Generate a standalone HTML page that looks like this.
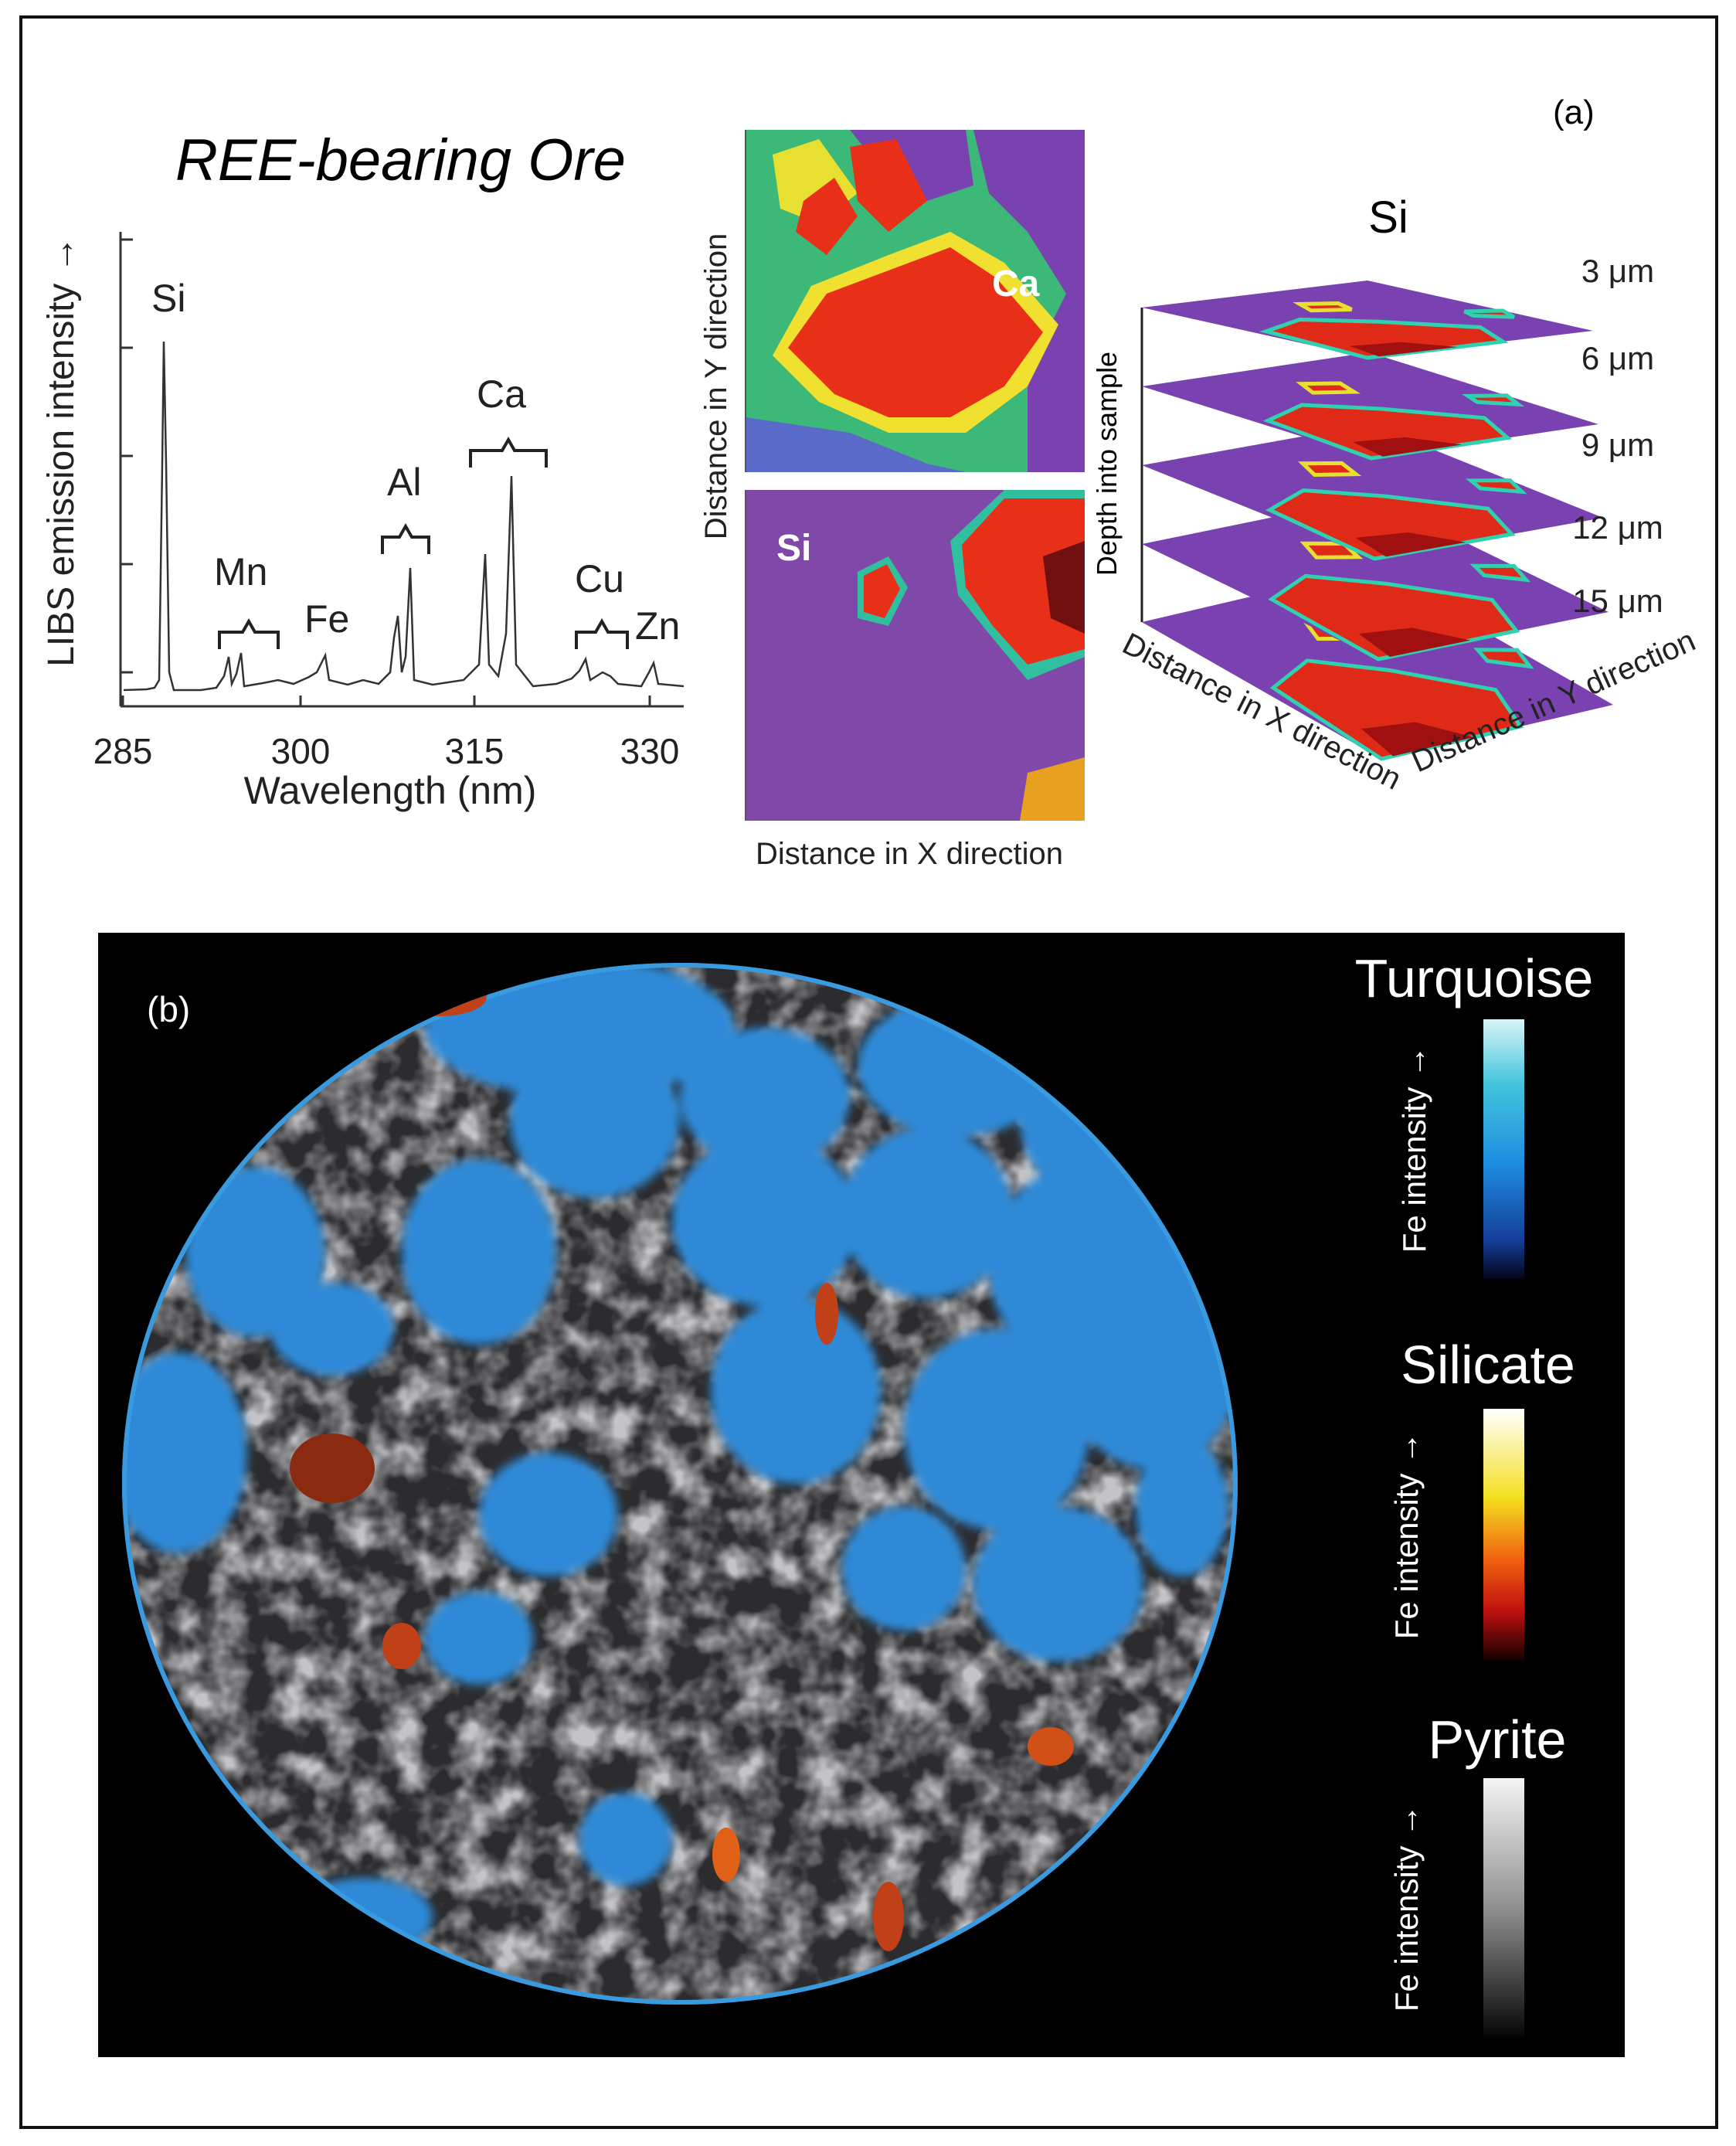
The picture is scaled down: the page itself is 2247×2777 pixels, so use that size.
<!DOCTYPE html>
<html><head><meta charset="utf-8"><style>
html,body{margin:0;padding:0;background:#fff}
svg{display:block}
text{font-family:"Liberation Sans",sans-serif}
</style></head><body>
<svg width="2247" height="2777" viewBox="0 0 2247 2777" xmlns="http://www.w3.org/2000/svg">
<defs>
<linearGradient id="tq" x1="0" y1="0" x2="0" y2="1"><stop offset="0" stop-color="#d8f4f8"/><stop offset="0.25" stop-color="#44c4dc"/><stop offset="0.55" stop-color="#1e8ee0"/><stop offset="0.85" stop-color="#143e9a"/><stop offset="1" stop-color="#05051a"/></linearGradient>
<linearGradient id="si" x1="0" y1="0" x2="0" y2="1"><stop offset="0" stop-color="#ffffff"/><stop offset="0.35" stop-color="#f4e020"/><stop offset="0.6" stop-color="#f06010"/><stop offset="0.8" stop-color="#c01010"/><stop offset="1" stop-color="#100000"/></linearGradient>
<linearGradient id="py" x1="0" y1="0" x2="0" y2="1"><stop offset="0" stop-color="#f4f4f4"/><stop offset="0.5" stop-color="#909090"/><stop offset="1" stop-color="#050505"/></linearGradient>
<filter id="tex" x="0" y="0" width="1" height="1"><feTurbulence type="fractalNoise" baseFrequency="0.022" numOctaves="3" seed="4"/><feColorMatrix type="matrix" values="0 0 0 0 0.55  0 0 0 0 0.55  0 0 0 0 0.57  0 0 0 2.5 -0.95"/></filter>
<filter id="bl"><feGaussianBlur stdDeviation="6"/></filter>
<clipPath id="disc"><ellipse cx="880" cy="1920" rx="722" ry="674"/></clipPath>
<clipPath id="ca"><rect x="965" y="168" width="439" height="443"/></clipPath>
<clipPath id="sim"><rect x="965" y="634" width="439" height="428"/></clipPath>
<g id="lay">
<polygon points="0,0 1,0 1,1 0,1" fill="#7a42b0"/>
<polygon points="0.5,0.05 1,0 1,0.6 0.78,0.72 0.55,0.5 0.4,0.3" fill="#e02a18" stroke="#30d0b0" stroke-width="5" vector-effect="non-scaling-stroke"/>
<polygon points="0.82,0.1 1,0.05 1,0.4 0.85,0.3" fill="#a01010"/>
<polygon points="0.2,0.5 0.3,0.45 0.35,0.58 0.25,0.62" fill="#e02a18" stroke="#e8e030" stroke-width="5" vector-effect="non-scaling-stroke"/>
<polygon points="0.55,0.88 0.62,0.85 0.7,0.95 0.6,1" fill="#e02a18" stroke="#30d0b0" stroke-width="5" vector-effect="non-scaling-stroke"/>
</g>
</defs>
<rect x="0" y="0" width="2247" height="2777" fill="#fff"/>
<rect x="27" y="22" width="2195" height="2731" fill="none" stroke="#111" stroke-width="4"/>

<text x="227" y="233" font-size="76" font-style="italic">REE-bearing Ore</text>
<text x="2010" y="160" font-size="44">(a)</text>
<line x1="156" y1="300" x2="156" y2="914" stroke="#333" stroke-width="3"/>
<line x1="156" y1="914" x2="885" y2="914" stroke="#333" stroke-width="3"/>
<g stroke="#333" stroke-width="3">
<line x1="156" y1="310" x2="172" y2="310"/><line x1="156" y1="450" x2="172" y2="450"/><line x1="156" y1="590" x2="172" y2="590"/><line x1="156" y1="730" x2="172" y2="730"/><line x1="156" y1="870" x2="172" y2="870"/>
<line x1="159" y1="914" x2="159" y2="900"/><line x1="389" y1="914" x2="389" y2="900"/><line x1="614" y1="914" x2="614" y2="900"/><line x1="841" y1="914" x2="841" y2="900"/>
</g>
<polyline fill="none" stroke="#333" stroke-width="2.5" points="160,893 190,892 200,890 206,880 210,600 212,442 215,600 219,870 225,893 260,893 280,890 290,875 296,850 300,885 306,872 312,845 316,888 340,884 360,880 380,885 400,876 410,870 415,860 421,848 426,880 450,886 470,880 490,885 505,870 510,825 515,797 520,870 525,850 531,735 536,880 560,886 600,880 620,860 628,717 633,860 645,875 655,820 662,616 668,860 690,888 720,885 740,878 750,868 758,853 764,880 780,870 790,875 800,885 830,888 840,870 846,858 852,885 885,888"/>
<g font-size="50" fill="#222">
<text x="196" y="403">Si</text><text x="277" y="757">Mn</text><text x="394" y="818">Fe</text><text x="501" y="641">Al</text><text x="617" y="527">Ca</text><text x="744" y="766">Cu</text><text x="822" y="827">Zn</text>
</g>
<g fill="none" stroke="#222" stroke-width="4">
<path d="M284,840 v-22 h30 l8,-14 l8,14 h30 v22"/>
<path d="M495,717 v-22 h22 l8,-14 l8,14 h22 v22"/>
<path d="M609,605 v-22 h41 l8,-14 l8,14 h41 v22"/>
<path d="M746,840 v-22 h25 l8,-14 l8,14 h25 v22"/>
</g>
<g font-size="46" fill="#222" text-anchor="middle">
<text x="159" y="988">285</text><text x="389" y="988">300</text><text x="614" y="988">315</text><text x="841" y="988">330</text>
<text x="505" y="1040" font-size="50">Wavelength (nm)</text>
<text transform="translate(95,584) rotate(-90)" font-size="48">LIBS emission intensity →</text>
</g>

<g clip-path="url(#ca)">
<rect x="965" y="168" width="439" height="443" fill="#3cb878"/>
<polygon points="1260,168 1404,168 1404,611 1330,611 1330,480 1380,380 1330,300 1280,250" fill="#7a42b0"/>
<polygon points="965,540 1100,560 1200,600 1250,611 965,611" fill="#5a6ac8"/>
<polygon points="1100,168 1250,168 1260,240 1200,260 1150,230" fill="#7a42b0"/>
<polygon points="1000,200 1060,180 1110,250 1060,290 1010,270" fill="#e8e030"/>
<polygon points="1050,370 1150,330 1230,300 1300,340 1370,420 1330,500 1250,560 1150,560 1060,520 1000,460" fill="#f0e030"/>
<polygon points="1070,380 1150,350 1230,320 1290,360 1350,430 1300,500 1230,540 1150,540 1080,510 1020,450" fill="#e83018"/>
<polygon points="1100,190 1160,180 1200,260 1150,300 1110,260" fill="#e83018"/>
<polygon points="1040,260 1080,230 1110,280 1070,330 1030,300" fill="#e83018"/>
</g>
<line x1="965" y1="168" x2="965" y2="611" stroke="#555" stroke-width="2"/>
<text x="1284" y="383" font-size="48" fill="#fff" font-weight="bold">Ca</text>
<g clip-path="url(#sim)">
<rect x="965" y="634" width="439" height="428" fill="#8048a8"/>
<polygon points="1230,700 1300,634 1404,634 1404,850 1330,880 1280,820 1240,770" fill="#30c0a0"/>
<polygon points="1245,705 1300,645 1404,645 1404,840 1330,860 1285,810 1250,760" fill="#e83018"/>
<polygon points="1350,720 1404,700 1404,820 1360,800" fill="#701010"/>
<polygon points="1110,740 1150,720 1175,760 1150,810 1110,800" fill="#30c0a0"/>
<polygon points="1118,745 1148,730 1165,762 1145,800 1118,792" fill="#e83018"/>
<polygon points="1330,1000 1404,980 1404,1062 1320,1062" fill="#e8a020"/>
</g>
<line x1="965" y1="634" x2="965" y2="1062" stroke="#555" stroke-width="2"/>
<text x="1005" y="725" font-size="48" fill="#fff" font-weight="bold">Si</text>
<text transform="translate(940,500) rotate(-90)" font-size="40" fill="#222" text-anchor="middle">Distance in Y direction</text>
<text x="1177" y="1118" font-size="40" fill="#222" text-anchor="middle">Distance in X direction</text>

<text x="1797" y="301" font-size="58" text-anchor="middle">Si</text>
<line x1="1478" y1="398" x2="1478" y2="805" stroke="#222" stroke-width="3"/>
<text transform="translate(1445,600) rotate(-90)" font-size="36" text-anchor="middle">Depth into sample</text>
<use href="#lay" transform="matrix(310,177,300,-70,1478,805)"/>
<use href="#lay" transform="matrix(306,149,298,-61,1478,704)"/>
<use href="#lay" transform="matrix(301,121,296,-53,1478,602)"/>
<use href="#lay" transform="matrix(297,93,294,-44,1478,500)"/>
<use href="#lay" transform="matrix(292,65,292,-35,1478,398)"/>
<g font-size="42" text-anchor="middle" fill="#222">
<text x="2094" y="365">3 μm</text><text x="2094" y="478">6 μm</text><text x="2094" y="590">9 μm</text><text x="2094" y="697">12 μm</text><text x="2094" y="792">15 μm</text>
</g>
<text transform="translate(1450,842) rotate(27)" font-size="40" fill="#222">Distance in X direction</text>
<text transform="translate(1835,1000) rotate(-24)" font-size="40" fill="#222">Distance in Y direction</text>

<rect x="127" y="1207" width="1976" height="1455" fill="#000"/>
<g clip-path="url(#disc)">
<rect x="150" y="1240" width="1470" height="1370" fill="#2c2c2e"/>
<rect x="150" y="1240" width="1470" height="1370" filter="url(#tex)"/>
<g fill="#2e8ad8" filter="url(#bl)">
<ellipse cx="750" cy="1330" rx="200" ry="90"/>
<ellipse cx="770" cy="1450" rx="110" ry="100"/>
<ellipse cx="990" cy="1420" rx="110" ry="90"/>
<ellipse cx="1240" cy="1380" rx="130" ry="90"/>
<ellipse cx="1440" cy="1450" rx="120" ry="110"/>
<ellipse cx="330" cy="1620" rx="90" ry="110"/>
<ellipse cx="620" cy="1620" rx="100" ry="120"/>
<ellipse cx="990" cy="1580" rx="120" ry="110"/>
<ellipse cx="1200" cy="1570" rx="110" ry="110"/>
<ellipse cx="1420" cy="1640" rx="140" ry="140"/>
<ellipse cx="1490" cy="1780" rx="110" ry="120"/>
<ellipse cx="1290" cy="1850" rx="120" ry="130"/>
<ellipse cx="1030" cy="1800" rx="110" ry="120"/>
<ellipse cx="230" cy="1880" rx="90" ry="130"/>
<ellipse cx="710" cy="1960" rx="90" ry="80"/>
<ellipse cx="430" cy="1720" rx="80" ry="60"/>
<ellipse cx="1370" cy="2050" rx="110" ry="100"/>
<ellipse cx="1170" cy="2030" rx="80" ry="80"/>
<ellipse cx="620" cy="2120" rx="70" ry="60"/>
<ellipse cx="810" cy="2380" rx="60" ry="60"/>
<ellipse cx="1530" cy="1950" rx="60" ry="90"/>
<ellipse cx="470" cy="2480" rx="90" ry="50"/>
</g>
<ellipse cx="880" cy="1920" rx="720" ry="672" fill="none" stroke="#3a9ae0" stroke-width="8"/>
<ellipse cx="430" cy="1900" rx="55" ry="45" fill="#8a2a10"/>
<ellipse cx="1360" cy="2260" rx="30" ry="25" fill="#d05018"/>
<ellipse cx="1150" cy="2480" rx="20" ry="45" fill="#c04018"/>
<ellipse cx="570" cy="1290" rx="60" ry="25" fill="#c04018"/>
<ellipse cx="520" cy="2130" rx="25" ry="30" fill="#c04018"/>
<ellipse cx="940" cy="2400" rx="18" ry="35" fill="#e06018"/>
<ellipse cx="1070" cy="1700" rx="15" ry="40" fill="#c04018"/>
</g>
<text x="190" y="1322" font-size="46" fill="#fff">(b)</text>
<text x="1908" y="1290" font-size="70" fill="#fff" text-anchor="middle">Turquoise</text>
<rect x="1920" y="1319" width="53" height="336" fill="url(#tq)"/>
<text transform="translate(1845,1487) rotate(-90)" font-size="42" fill="#fff" text-anchor="middle">Fe intensity →</text>
<text x="1926" y="1790" font-size="70" fill="#fff" text-anchor="middle">Silicate</text>
<rect x="1920" y="1823" width="53" height="327" fill="url(#si)"/>
<text transform="translate(1835,1987) rotate(-90)" font-size="42" fill="#fff" text-anchor="middle">Fe intensity →</text>
<text x="1938" y="2275" font-size="70" fill="#fff" text-anchor="middle">Pyrite</text>
<rect x="1920" y="2301" width="53" height="336" fill="url(#py)"/>
<text transform="translate(1835,2469) rotate(-90)" font-size="42" fill="#fff" text-anchor="middle">Fe intensity →</text>
</svg>
</body></html>
